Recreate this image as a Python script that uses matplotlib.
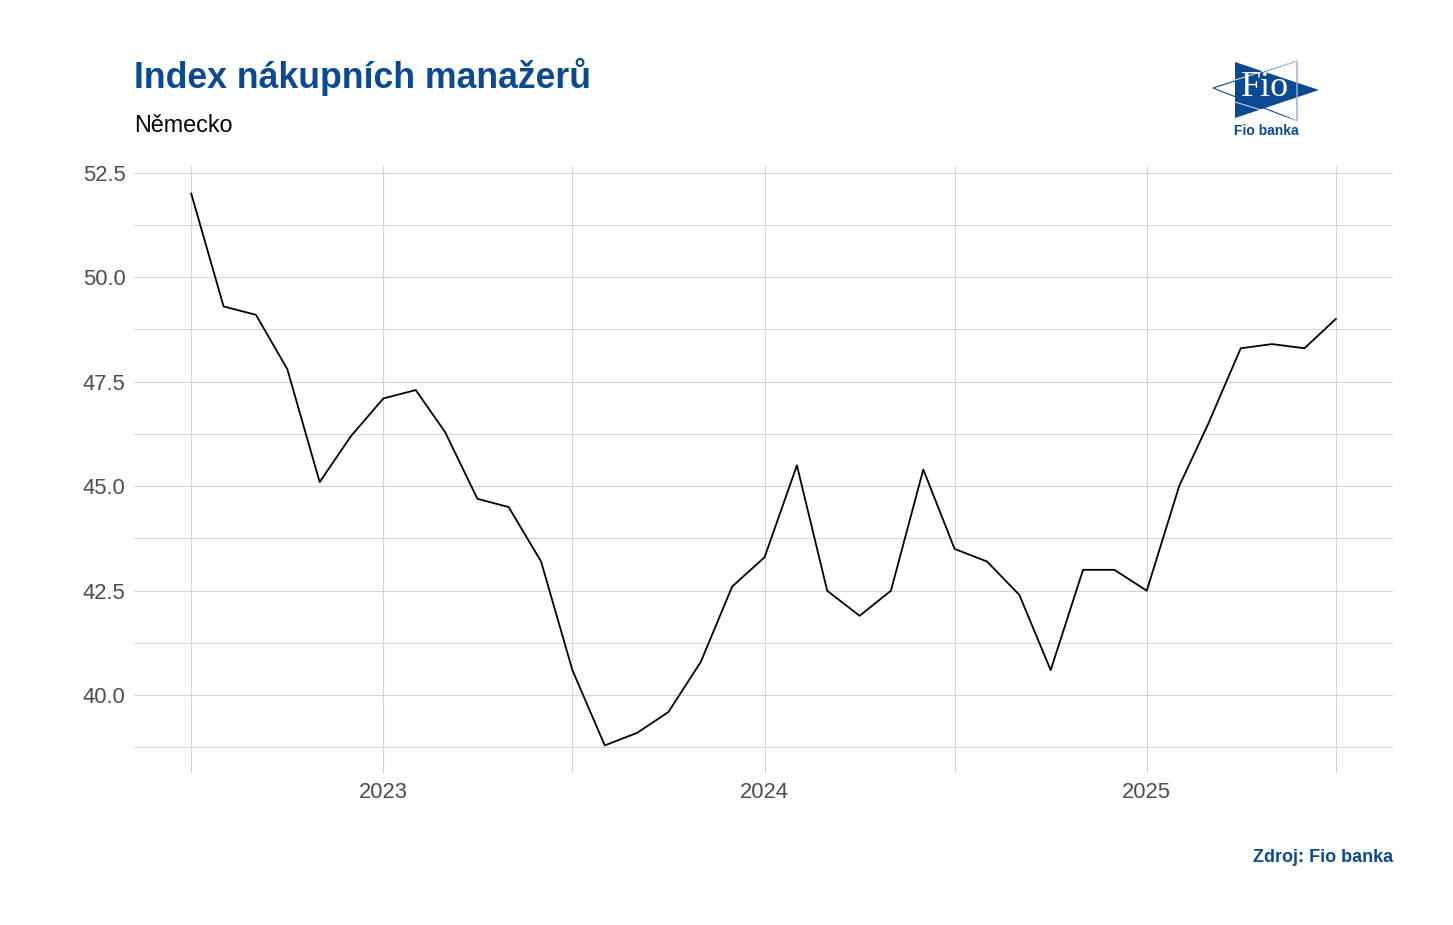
import numpy as np
import pandas as pd
import matplotlib
matplotlib.use('Agg')
import matplotlib.pyplot as plt
from matplotlib.patches import Polygon

plt.rcParams['font.family'] = ['Liberation Sans', 'DejaVu Sans']

# monthly PMI, Germany (Jul 2022 - Jul 2025)
start_month = '2022-07-01'
pmi = [52.0, 49.3, 49.1, 47.8, 45.1, 46.2, 47.1, 47.3, 46.3, 44.7, 44.5, 43.2,
       40.6, 38.8, 39.1, 39.6, 40.8, 42.6, 43.3, 45.5, 42.5, 41.9, 42.5, 45.4,
       43.5, 43.2, 42.4, 40.6, 43.0, 43.0, 42.5, 45.0, 46.5, 48.3, 48.4, 48.3,
       49.0]
dates = pd.date_range(start_month, periods=len(pmi), freq='MS')

year_ticks = pd.to_datetime(['2023-01-01', '2024-01-01', '2025-01-01'])
year_labels = ['2023', '2024', '2025']
mid_ticks = pd.to_datetime(['2022-07-01', '2023-07-01', '2024-07-01', '2025-07-01'])
y_ticks = [40.0, 42.5, 45.0, 47.5, 50.0, 52.5]
y_minor = [38.75, 41.25, 43.75, 46.25, 48.75, 51.25]

blue = '#0B4A93'
grid_c = '#D4D4D4'

W, H = 1453, 925
fig = plt.figure(figsize=(W / 100, H / 100), dpi=100)
ax = fig.add_axes([134 / W, 1 - 773 / H, (1393 - 134) / W, (773 - 166) / H])

ax.plot(dates, pmi, color='black', lw=1.3, zorder=3)

# ggplot-like expansion
span = dates[-1] - dates[0]
ax.set_xlim(dates[0] - span * 0.05, dates[-1] + span * 0.05)
rng = max(pmi) - min(pmi)
ax.set_ylim(min(pmi) - rng * 0.05, max(pmi) + rng * 0.05)

ax.set_xticks(year_ticks)
ax.set_xticklabels(year_labels)
ax.set_xticks(mid_ticks, minor=True)
ax.set_yticks(y_ticks)
ax.set_yticklabels([f'{v:.1f}' for v in y_ticks])
ax.set_yticks(y_minor, minor=True)

ax.grid(True, which='major', color=grid_c, lw=0.8)
ax.grid(True, which='minor', color=grid_c, lw=0.7)
ax.set_axisbelow(True)
for s in ax.spines.values():
    s.set_visible(False)
ax.tick_params(which='both', length=0)
ax.tick_params(axis='y', labelsize=15.8, labelcolor='#4D4D4D', pad=6)
ax.tick_params(axis='x', labelsize=15.8, labelcolor='#4D4D4D', pad=6.5)

# titles
fig.text(134 / W, 1 - 88 / H, 'Index nákupních manažerů', fontsize=25.7,
         fontweight='bold', color=blue, ha='left', va='baseline')
fig.text(134 / W, 1 - 132 / H, 'Německo', fontsize=16.8, color='black',
         ha='left', va='baseline')
fig.text(1393 / W, 1 - 862 / H, 'Zdroj: Fio banka', fontsize=13,
         fontweight='bold', color=blue, ha='right', va='baseline')

# logo
lax = fig.add_axes([0, 0, 1, 1])
lax.set_xlim(0, W)
lax.set_ylim(H, 0)
lax.axis('off')
lax.add_patch(Polygon([(1213, 88), (1297, 61), (1297, 121)], closed=True,
                      facecolor='white', edgecolor=blue, lw=0.8))
lax.add_patch(Polygon([(1235, 62), (1319, 90), (1235, 118)], closed=True,
                      facecolor=blue, edgecolor='none'))
lax.plot([1235, 1297, 1297, 1235], [80, 61, 121, 102], color='white', lw=0.6)
lax.text(1265, 88, 'Fio', fontsize=26, color='white', family='Liberation Serif',
         ha='center', va='center')
lax.text(1266, 135, 'Fio banka', fontsize=10, fontweight='bold', color=blue,
         ha='center', va='baseline')

fig.savefig('out.png', dpi=100, facecolor='white')
